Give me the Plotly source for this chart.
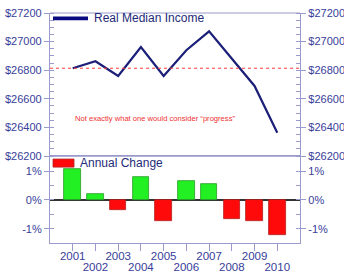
import plotly.graph_objects as go

years = [2001, 2002, 2003, 2004, 2005, 2006, 2007, 2008, 2009, 2010]
income = [26814, 26863, 26760, 26962, 26760, 26940, 27072, 26880, 26690, 26363]
change = [1.07, 0.22, -0.36, 0.80, -0.73, 0.66, 0.55, -0.66, -0.72, -1.22]
income_ticks = [26200, 26400, 26600, 26800, 27000, 27200]
income_tick_text = ["&#36;" + str(v) for v in income_ticks]
change_ticks = [-1, 0, 1]
change_tick_text = ["-1%", "0%", "1%"]
odd_years = years[0::2]
odd_year_text = [str(y) for y in odd_years]
even_years = years[1::2]
even_year_text = [str(y) for y in even_years]
note = "Not exactly what one would consider \u201cprogress\u201d"

AX = "#9A9ACC"
LBL = "#38409A"
FONT = "Liberation Sans, Arial, sans-serif"

pos_y = [c for c in change if c >= 0]
pos_x = [y for y, c in zip(years, change) if c >= 0]
neg_y = [c for c in change if c < 0]
neg_x = [y for y, c in zip(years, change) if c < 0]

fig = go.Figure()
fig.add_trace(go.Scatter(x=years, y=income, mode="lines", line=dict(color="#1B1F78", width=2.2),
                         xaxis="x", yaxis="y", showlegend=False))
fig.add_trace(go.Bar(x=pos_x, y=pos_y, marker=dict(color="#22F022", line=dict(color="#2A9A2A", width=0.8)),
                     width=0.73, xaxis="x", yaxis="y2", showlegend=False))
fig.add_trace(go.Bar(x=neg_x, y=neg_y, marker=dict(color="#FF0A0A", line=dict(color="#B02020", width=0.8)),
                     width=0.73, xaxis="x", yaxis="y2", showlegend=False))

common_y = dict(showgrid=False, showline=True, linecolor=AX, linewidth=1.2,
                tickcolor=AX, ticks="outside", ticklen=5, automargin=False,
                tickfont=dict(family=FONT, size=11, color=LBL), zeroline=False)

label_x = dict(range=[2000, 2011], anchor="y2", overlaying="x", side="bottom", tickangle=0,
               showgrid=False, showline=False, ticks="", ticklen=0, zeroline=False, automargin=False,
               tickfont=dict(family=FONT, size=11.5, color=LBL))

fig.update_layout(
    width=344, height=275,
    margin=dict(l=50, r=44, t=13, b=32),
    paper_bgcolor="white", plot_bgcolor="white",
    font=dict(family=FONT),
    bargap=0,
    xaxis=dict(range=[2000, 2011], anchor="y2", tickvals=years, showticklabels=False,
               showgrid=False, showline=True, linecolor=AX, linewidth=1.2, mirror=True,
               ticks="outside", ticklen=7, tickcolor=AX, zeroline=False, automargin=False),
    xaxis2=dict(tickvals=odd_years, ticktext=odd_year_text, ticklabelstandoff=4, **label_x),
    xaxis3=dict(tickvals=even_years, ticktext=even_year_text, ticklabelstandoff=15, **label_x),
    yaxis=dict(domain=[0.378, 1], range=[26200, 27200], tickvals=income_ticks, ticktext=income_tick_text,
               anchor="x",
               minor=dict(dtick=50, ticks="inside", ticklen=4, tickcolor=AX), **common_y),
    yaxis3=dict(domain=[0.378, 1], range=[26200, 27200], tickvals=income_ticks, ticktext=income_tick_text,
                overlaying="y", side="right", anchor="x",
                minor=dict(dtick=50, ticks="inside", ticklen=4, tickcolor=AX), **common_y),
    yaxis2=dict(domain=[0, 0.378], range=[-1.5, 1.53], tickvals=change_ticks, ticktext=change_tick_text,
                anchor="x", minor=dict(dtick=0.5, ticks="inside", ticklen=4, tickcolor=AX),
                **{**common_y, "zeroline": True}, zerolinecolor="#333333", zerolinewidth=2),
    yaxis4=dict(domain=[0, 0.378], range=[-1.5, 1.53], tickvals=change_ticks, ticktext=change_tick_text,
                overlaying="y2", side="right", anchor="x",
                minor=dict(dtick=0.5, ticks="inside", ticklen=4, tickcolor=AX), **common_y),
)

# right axes / label axes need a trace reference to be drawn
fig.add_trace(go.Scatter(x=years, y=income, mode="lines", line=dict(width=0), opacity=0,
                         xaxis="x", yaxis="y3", showlegend=False, hoverinfo="skip"))
fig.add_trace(go.Scatter(x=years, y=change, mode="lines", line=dict(width=0), opacity=0,
                         xaxis="x2", yaxis="y4", showlegend=False, hoverinfo="skip"))
fig.add_trace(go.Scatter(x=years, y=change, mode="lines", line=dict(width=0), opacity=0,
                         xaxis="x3", yaxis="y2", showlegend=False, hoverinfo="skip"))

# top border of plot, divider between panels
fig.add_shape(type="line", xref="paper", yref="paper", x0=0, x1=1, y0=1, y1=1, line=dict(color=AX, width=1.2))
fig.add_shape(type="line", xref="paper", yref="paper", x0=0, x1=1, y0=0.378, y1=0.378, line=dict(color=AX, width=1.2))

# reference line at the 2001 value
fig.add_shape(type="line", xref="paper", yref="y", x0=0, x1=1, y0=income[0], y1=income[0],
              line=dict(color="#FF3C3C", width=1, dash="dot"))

fig.add_annotation(x=2004.6, y=26464, xref="x", yref="y", text=note, showarrow=False,
                   font=dict(family=FONT, size=7.6, color="#F03030"))

# legends
fig.add_shape(type="rect", xref="paper", yref="paper", x0=0.012, x1=0.152, y0=0.968, y1=0.985,
              fillcolor="#0A0A80", line=dict(width=0))
fig.add_annotation(x=0.166, y=0.977, xref="paper", yref="paper", text="Real Median Income",
                   showarrow=False, xanchor="left", yanchor="middle",
                   font=dict(family=FONT, size=12, color="#1E2A78"))
fig.add_shape(type="rect", xref="paper", yref="paper", x0=0.012, x1=0.096, y0=0.330, y1=0.365,
              fillcolor="#FF0A0A", line=dict(color="#B02020", width=0.8))
fig.add_annotation(x=0.112, y=0.348, xref="paper", yref="paper", text="Annual Change",
                   showarrow=False, xanchor="left", yanchor="middle",
                   font=dict(family=FONT, size=12, color="#1E2A78"))

fig.write_html("out.html", config={"displayModeBar": False},
               post_script="document.body.style.margin='0';document.body.style.overflow='hidden';")
